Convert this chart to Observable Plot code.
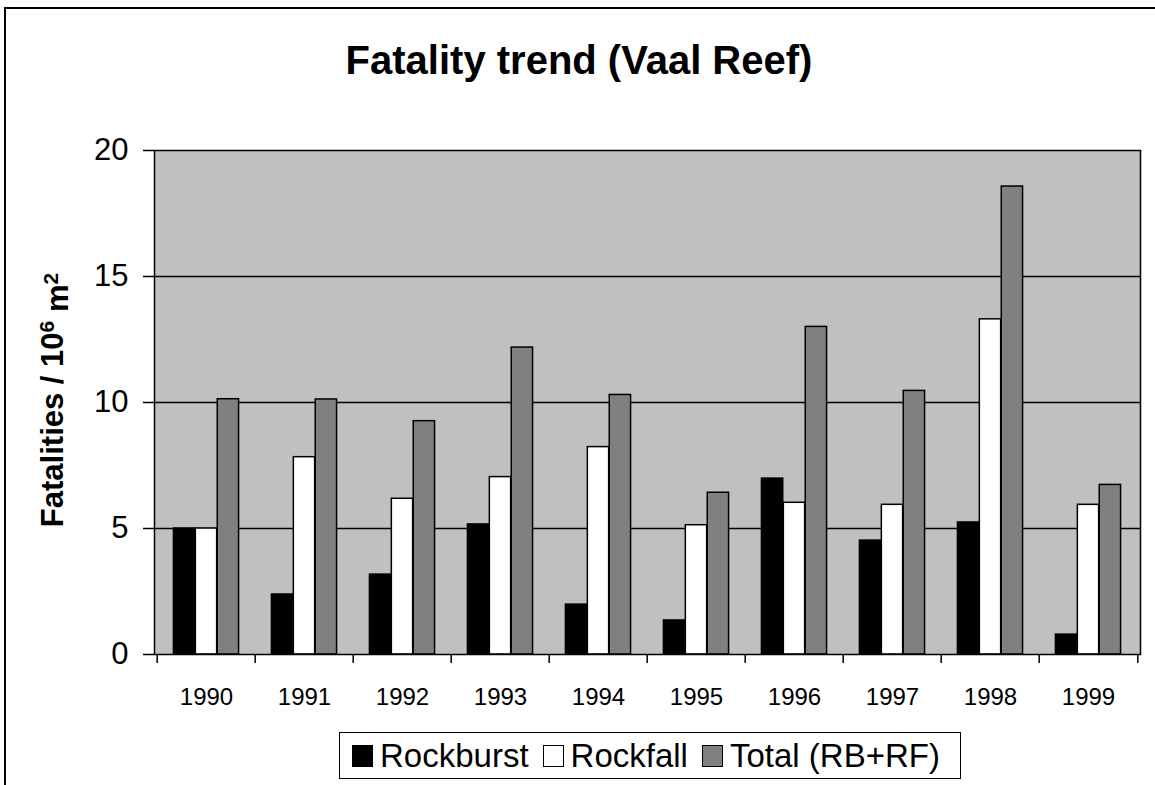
<!DOCTYPE html>
<html>
<head>
<meta charset="utf-8">
<script src="https://cdn.jsdelivr.net/npm/d3@7"></script>
<script src="https://cdn.jsdelivr.net/npm/@observablehq/plot@0.6"></script>
<style>
  html, body { margin: 0; padding: 0; background: #fff; }
  #wrap { position: relative; width: 1155px; height: 785px; overflow: hidden; font-family: "Liberation Sans", Arial, sans-serif; }
  #border { position: absolute; left: 4px; top: 7px; width: 1200px; height: 900px; border-left: 2px solid #000; border-top: 2px solid #000; }
  #title { position: absolute; left: 0; top: 40px; width: 1158px; text-align: center; font-weight: bold; font-size: 40px; line-height: 40px; color: #000; }
  #chart { position: absolute; left: 0; top: 0; }
  #legend { position: absolute; left: 339px; top: 732px; width: 622px; height: 47px; border: 1.5px solid #000; background: #fff;
            display: flex; align-items: center; justify-content: flex-start; padding-left: 12px; box-sizing: border-box;
            font-size: 33px; color: #000; white-space: nowrap; overflow: hidden; }
  .item { display: flex; align-items: center; margin-right: 14px; flex-shrink: 0; }
  .sw { width: 21px; height: 22px; border: 1.5px solid #000; margin-right: 7px; box-sizing: border-box; flex-shrink: 0; }
</style>
</head>
<body>
<div id="wrap">
  <div id="border"></div>
  <div id="chart"></div>
  <div id="title">Fatality trend (Vaal Reef)</div>
  <div id="legend"></div>
</div>
<script>
// ---- data ----
const years = ["1990", "1991", "1992", "1993", "1994", "1995", "1996", "1997", "1998", "1999"];
const rockburst = [5.0, 2.38, 3.17, 5.16, 1.98, 1.35, 6.98, 4.52, 5.24, 0.79];
const rockfall = [5.0, 7.83, 6.18, 7.04, 8.23, 5.13, 6.02, 5.94, 13.3, 5.94];
const total = [10.13, 10.12, 9.26, 12.18, 10.3, 6.42, 13.0, 10.46, 18.57, 6.73];
const seriesNames = ["Rockburst", "Rockfall", "Total (RB+RF)"];
const seriesColors = ["#000000", "#ffffff", "#808080"];
const yTicks = [0, 5, 10, 15, 20];
const gridValues = [5, 10, 15];

const seriesValues = [rockburst, rockfall, total];

// ---- layout ----
const W = 1155, H = 720;
const mL = 154, mR = 15, mT = 150, mB = 66;
const step = (W - mL - mR) / years.length;
const barW = step / 4.5; // Excel gap width 150%

const font = '"Liberation Sans", Arial, sans-serif';

const barMarks = seriesNames.map((name, k) => {
  const rows = years.map((year, i) => ({year, value: seriesValues[k][i]}));
  return Plot.barY(rows, {
    x: "year",
    y: "value",
    fill: seriesColors[k],
    stroke: "#000",
    strokeWidth: 1.5,
    insetLeft: (0.75 + k) * barW,
    insetRight: step - (1.75 + k) * barW
  });
});

const chart = Plot.plot({
  width: W,
  height: H,
  marginLeft: mL,
  marginRight: mR,
  marginTop: mT,
  marginBottom: mB,
  style: {fontFamily: font, color: "#000", background: "transparent", overflow: "visible"},
  x: {type: "band", domain: years, padding: 0},
  y: {domain: [0, 20]},
  marks: [
    Plot.frame({fill: "#c0c0c0", stroke: null}),
    Plot.gridY(gridValues, {stroke: "#000", strokeOpacity: 1, strokeWidth: 1.3}),
    ...barMarks,
    Plot.frame({stroke: "#000", strokeWidth: 1.5}),
    Plot.axisY({ticks: yTicks, tickSize: 11, tickPadding: 15, fontSize: 31, strokeWidth: 1.5, label: null}),
    Plot.axisX({tickSize: 0, tickPadding: 33, fontSize: 24, label: null}),
    Plot.axisX({tickSize: 9, dx: -step / 2, strokeWidth: 1.5, tickFormat: () => "", label: null}),
    Plot.axisX({ticks: [years[years.length - 1]], tickSize: 9, dx: step / 2, strokeWidth: 1.5, tickFormat: () => "", label: null})
  ]
});

document.getElementById("chart").appendChild(chart);

// y-axis title with superscripts
const svg = d3.select(chart);
const t = svg.append("text")
  .attr("transform", "translate(63,400) rotate(-90)")
  .attr("text-anchor", "middle")
  .attr("font-family", font)
  .attr("font-weight", "bold")
  .attr("font-size", 31)
  .attr("fill", "#000");
t.append("tspan").text("Fatalities / 10");
t.append("tspan").attr("dy", "-0.45em").attr("font-size", 21).text("6");
t.append("tspan").attr("dy", "0.45em").text(" m");
t.append("tspan").attr("dy", "-0.45em").attr("font-size", 21).text("2");

// legend
const legend = d3.select("#legend");
seriesNames.forEach((name, k) => {
  const item = legend.append("div").attr("class", "item");
  item.append("div").attr("class", "sw").style("background", seriesColors[k]);
  item.append("span").text(name);
});
</script>
</body>
</html>
